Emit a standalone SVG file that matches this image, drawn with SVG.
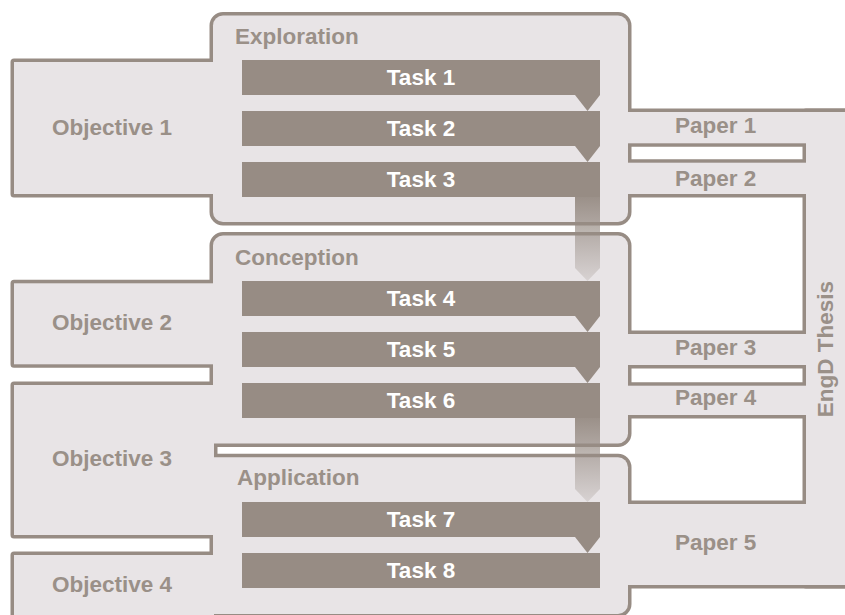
<svg xmlns="http://www.w3.org/2000/svg" xmlns:xlink="http://www.w3.org/1999/xlink" width="845" height="615" viewBox="0 0 845 615">
  <defs>
    <style>
      .edge { fill: #978c84; stroke: #978c84; stroke-width: 7; stroke-linejoin: round; }
      .body { fill: #e8e4e6; stroke: none; }
      .lbl { font-family: "Liberation Sans", Arial, Helvetica, sans-serif; font-weight: bold; font-size: 22.5px; fill: #9a9088; }
      .task { fill: #978c84; }
      .tlbl { font-family: "Liberation Sans", Arial, Helvetica, sans-serif; font-weight: bold; font-size: 22.5px; fill: #ffffff; text-anchor: middle; }
      .notch { fill: #978c84; }
      .flow { fill: url(#fade); }
    </style>
    <linearGradient id="fade" x1="0" y1="0" x2="0" y2="1">
      <stop offset="0" stop-color="#978c84" stop-opacity="0.95"/>
      <stop offset="1" stop-color="#978c84" stop-opacity="0.2"/>
    </linearGradient>

    <!-- region outlines: drawn twice (wide stroke, then fill) so merged regions share one outline -->
    <rect id="s-obj1" x="14" y="62" width="200" height="132"/>
    <rect id="s-obj2" x="14" y="283.3" width="200" height="81"/>
    <rect id="s-obj3" x="14" y="385" width="200" height="150"/>
    <rect id="s-obj4" x="14" y="555" width="200" height="80"/>
    <path id="s-expl" d="M223,15.5 H618 A10,10 0 0 1 628,25.5 V212 A10,10 0 0 1 618,222 H223 A10,10 0 0 1 213,212 V25.5 A10,10 0 0 1 223,15.5 Z"/>
    <path id="s-conc" d="M223,235.5 H618 A10,10 0 0 1 628,245.5 V433.5 A10,10 0 0 1 618,443.5 H213 V245.5 A10,10 0 0 1 223,235.5 Z"/>
    <path id="s-appl" d="M213,457.3 H618 A10,10 0 0 1 628,467.3 V604 A10,10 0 0 1 618,614 H213 Z"/>
    <rect id="s-pap1" x="626" y="112" width="234" height="31.3"/>
    <rect id="s-pap2" x="626" y="162.7" width="234" height="31.3"/>
    <rect id="s-pap3" x="626" y="334" width="234" height="31"/>
    <rect id="s-pap4" x="626" y="385.7" width="234" height="29.3"/>
    <rect id="s-pap5" x="626" y="504" width="234" height="81"/>
    <rect id="s-thesis" x="806" y="112" width="54" height="473"/>
  </defs>

  <g id="regions">
    <g class="edge">
      <use xlink:href="#s-obj1"/><use xlink:href="#s-obj2"/><use xlink:href="#s-obj3"/><use xlink:href="#s-obj4"/>
      <use xlink:href="#s-expl"/><use xlink:href="#s-conc"/><use xlink:href="#s-appl"/>
      <use xlink:href="#s-pap1"/><use xlink:href="#s-pap2"/><use xlink:href="#s-pap3"/><use xlink:href="#s-pap4"/><use xlink:href="#s-pap5"/>
      <use xlink:href="#s-thesis"/>
    </g>
    <g class="body">
      <use xlink:href="#s-obj1"/><use xlink:href="#s-obj2"/><use xlink:href="#s-obj3"/><use xlink:href="#s-obj4"/>
      <use xlink:href="#s-expl"/><use xlink:href="#s-conc"/><use xlink:href="#s-appl"/>
      <use xlink:href="#s-pap1"/><use xlink:href="#s-pap2"/><use xlink:href="#s-pap3"/><use xlink:href="#s-pap4"/><use xlink:href="#s-pap5"/>
      <use xlink:href="#s-thesis"/>
    </g>
  </g>

  <!-- objectives -->
  <g id="objective-1"><text class="lbl" x="52" y="135">Objective 1</text></g>
  <g id="objective-2"><text class="lbl" x="52" y="330">Objective 2</text></g>
  <g id="objective-3"><text class="lbl" x="52" y="466">Objective 3</text></g>
  <g id="objective-4"><text class="lbl" x="52" y="592">Objective 4</text></g>

  <!-- phases -->
  <g id="exploration"><text class="lbl" x="235" y="44">Exploration</text></g>
  <g id="conception"><text class="lbl" x="235" y="265">Conception</text></g>
  <g id="application"><text class="lbl" x="237" y="485">Application</text></g>

  <!-- papers and thesis -->
  <g id="paper-1"><text class="lbl" x="675" y="133">Paper 1</text></g>
  <g id="paper-2"><text class="lbl" x="675" y="186">Paper 2</text></g>
  <g id="paper-3"><text class="lbl" x="675" y="355">Paper 3</text></g>
  <g id="paper-4"><text class="lbl" x="675" y="405">Paper 4</text></g>
  <g id="paper-5"><text class="lbl" x="675" y="550">Paper 5</text></g>
  <g id="engd-thesis"><text class="lbl" text-anchor="middle" transform="translate(833,349) rotate(-90)">EngD Thesis</text></g>

  <!-- task-to-task connectors -->
  <g id="connectors">
    <polygon class="notch" points="575,95 600,95 587.5,111"/>
    <polygon class="notch" points="575,146 600,146 587.5,162"/>
    <polygon class="notch" points="575,316 600,316 587.5,332"/>
    <polygon class="notch" points="575,367 600,367 587.5,383"/>
    <polygon class="notch" points="575,537 600,537 587.5,553"/>
    <polygon class="flow" points="575,197 600,197 600,268 587.5,281 575,268"/>
    <polygon class="flow" points="575,418 600,418 600,489 587.5,502 575,489"/>
  </g>

  <!-- tasks -->
  <g id="task-1"><rect class="task" x="242" y="60" width="358" height="35"/><text class="tlbl" x="421" y="85">Task 1</text></g>
  <g id="task-2"><rect class="task" x="242" y="111" width="358" height="35"/><text class="tlbl" x="421" y="136">Task 2</text></g>
  <g id="task-3"><rect class="task" x="242" y="162" width="358" height="35"/><text class="tlbl" x="421" y="187">Task 3</text></g>
  <g id="task-4"><rect class="task" x="242" y="281" width="358" height="35"/><text class="tlbl" x="421" y="306">Task 4</text></g>
  <g id="task-5"><rect class="task" x="242" y="332" width="358" height="35"/><text class="tlbl" x="421" y="357">Task 5</text></g>
  <g id="task-6"><rect class="task" x="242" y="383" width="358" height="35"/><text class="tlbl" x="421" y="408">Task 6</text></g>
  <g id="task-7"><rect class="task" x="242" y="502" width="358" height="35"/><text class="tlbl" x="421" y="527">Task 7</text></g>
  <g id="task-8"><rect class="task" x="242" y="553" width="358" height="35"/><text class="tlbl" x="421" y="578">Task 8</text></g>
</svg>
